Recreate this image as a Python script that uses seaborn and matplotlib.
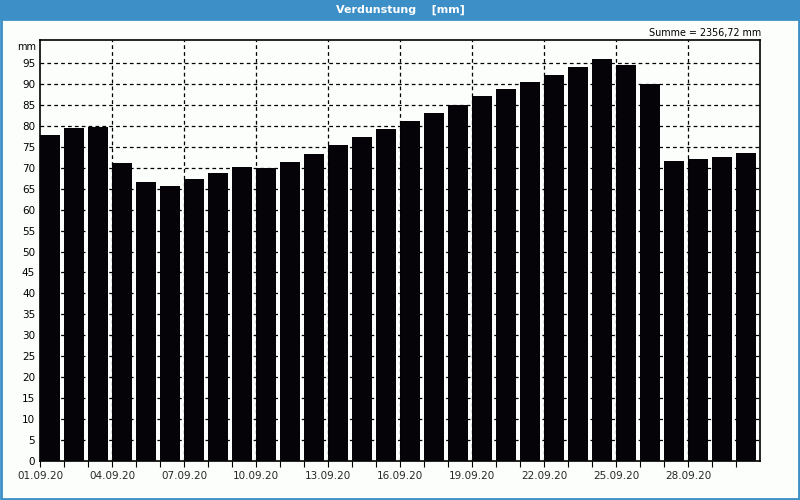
import matplotlib
matplotlib.use("Agg")
import matplotlib.pyplot as plt
import matplotlib.patches as mpatches
from matplotlib.ticker import FixedLocator
import seaborn as sns
import pandas as pd

# ---- data ----
dates = [f"{d:02d}.09.20" for d in range(1, 31)]
values = [77.8, 79.5, 79.8, 71.1, 66.6, 65.7, 67.3, 68.7, 70.2, 70.0,
          71.4, 73.3, 75.4, 77.3, 79.2, 81.1, 83.1, 85.0, 87.1, 88.8,
          90.5, 92.1, 94.0, 95.9, 94.5, 90.0, 71.6, 72.1, 72.5, 73.5]
title = "Verdunstung    [mm]"
sum_text = "Summe = 2356,72 mm"
unit = "mm"

sns.set_theme(style="white")
plt.rcParams['font.family'] = ['DejaVu Sans']

bar_w = 0.82
df = pd.DataFrame({"pos": [i + bar_w / 2 for i in range(len(values))],
                   "val": values})

bg = "#fcfefc"
blue = "#3d8fc7"
fig = plt.figure(figsize=(8, 5), dpi=100, facecolor=bg)
ax = fig.add_axes([40 / 800, 1 - 461 / 500, 720 / 800, 421 / 500])
ax.set_facecolor(bg)

sns.barplot(data=df, x="pos", y="val", native_scale=True, width=bar_w,
            color="#050308", saturation=1, ax=ax, edgecolor="none",
            linewidth=0, zorder=3)

ax.set_xlim(0, 30)
ax.set_ylim(0, 100.5)
ax.set_xlabel("")
ax.set_ylabel("")

# y ticks
ax.yaxis.set_major_locator(FixedLocator(list(range(0, 100, 5))))
ax.set_yticklabels([str(v) for v in range(0, 100, 5)])
ax.tick_params(axis="y", length=0, pad=3.5, labelsize=7.5, colors="#000000")

# x ticks
major = list(range(0, 30, 3))
ax.xaxis.set_major_locator(FixedLocator(major))
ax.set_xticklabels([dates[i] for i in major])
ax.xaxis.set_minor_locator(FixedLocator(list(range(0, 30))))
ax.tick_params(axis="x", which="both", direction="out", length=4, width=0.8,
               color="black", labelsize=7.5, pad=3, bottom=True)

# grid
for yv in range(5, 100, 5):
    ax.axhline(yv, color="black", lw=0.9, ls=(0, (3, 2.5)), zorder=1)
for xv in range(3, 30, 3):
    ax.axvline(xv, color="black", lw=0.9, ls=(0, (3, 2.5)), zorder=4)

for s in ax.spines.values():
    s.set_color("black")
    s.set_linewidth(1.2)
    s.set_visible(True)

ax.text(-4 / 720, 0.984, unit, transform=ax.transAxes, ha="right", va="center",
        fontsize=7, color="black")

fig.text(761 / 800, 1 - 33 / 500, sum_text, ha="right", va="center",
         fontsize=6.9, color="black")

# title bar and border
fig.patches.append(mpatches.Rectangle((0, 1 - 20 / 500), 1, 20 / 500,
                                      transform=fig.transFigure,
                                      facecolor=blue, edgecolor="none",
                                      zorder=0))
fig.patches.append(mpatches.Rectangle((0.5 / 800, 1 / 500), 798.5 / 800, 480 / 500,
                                      transform=fig.transFigure,
                                      facecolor="none", edgecolor=blue,
                                      linewidth=2, zorder=0))
fig.text(0.5, 1 - 10 / 500, title, ha="center", va="center", color="white",
         fontsize=8, fontweight="bold")

fig.savefig("out.png", dpi=100, facecolor=bg)
